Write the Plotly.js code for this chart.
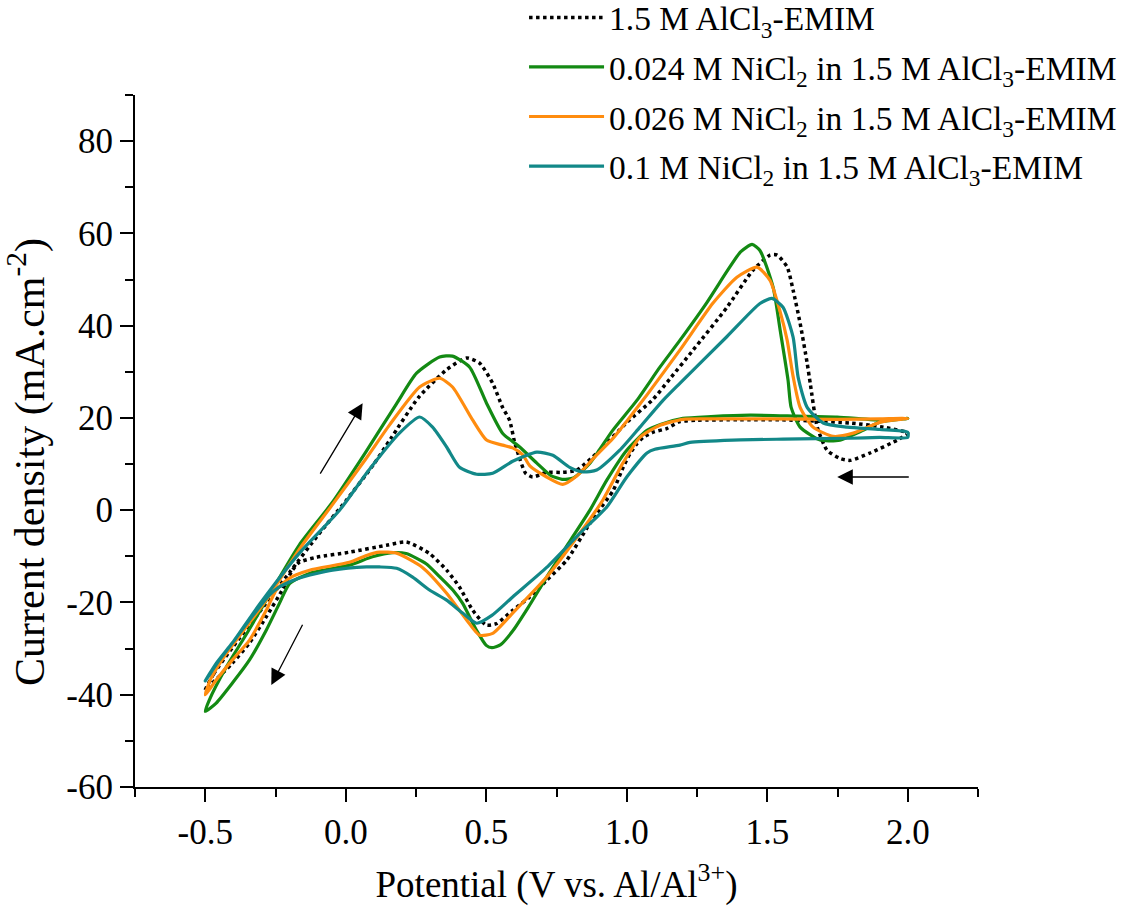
<!DOCTYPE html>
<html>
<head>
<meta charset="utf-8">
<script src="https://cdn.plot.ly/plotly-3.0.1.min.js"></script>
<style>html,body{margin:0;padding:0;background:#fff;}#chart{width:1133px;height:919px;}</style>
</head>
<body>
<div id="chart"></div>
<script>
// ---- Series names ----
const seriesNames = [
  '1.5 M AlCl<sub>3</sub>-EMIM',
  '0.024 M NiCl<sub>2</sub> in 1.5 M AlCl<sub>3</sub>-EMIM',
  '0.026 M NiCl<sub>2</sub> in 1.5 M AlCl<sub>3</sub>-EMIM',
  '0.1 M NiCl<sub>2</sub> in 1.5 M AlCl<sub>3</sub>-EMIM'
];

// ---- 1.5 M AlCl3-EMIM (blank), forward then reverse scan ----
const blankX = [-0.5,-0.47,-0.4,-0.3,-0.2,-0.1,0.0,0.1,0.16,0.26,0.36,0.43,0.476,0.523,0.558,0.583,0.6,0.62,0.64,0.665,0.715,0.772,0.822,0.904,1.0,1.093,1.154,1.236,1.357,1.449,1.51,1.535,1.571,1.592,1.617,1.642,1.653,1.678,1.713,1.76,1.795,1.866,1.963,2.0,
  1.913,1.795,1.678,1.55,1.4,1.25,1.189,1.142,1.094,1.059,1.036,1.012,0.988,0.952,0.893,0.857,0.787,0.715,0.655,0.594,0.536,0.5,0.452,0.405,0.359,0.298,0.216,0.145,0.013,-0.104,-0.165,-0.19,-0.226,-0.283,-0.343,-0.404,-0.475,-0.5];
const blankY = [-39,-35.5,-29.5,-21.5,-13.5,-5.5,2,10,15.5,24.5,30.5,33,31.9,27.5,22.3,19.5,15,11,8,7.2,8.2,8.2,8.7,13,19,24,28.5,34.7,44,52,55.3,55.3,52.7,47.7,40.5,31.9,27.5,18,13,11.2,10.8,12.4,15.2,16.7,
  18,18.9,19.3,19.6,19.6,19.5,19.2,17.7,16.9,15.8,14.4,12.3,9.4,4.3,-0.7,-4,-10.8,-15.2,-18.8,-21.7,-24.6,-24.9,-21.7,-16.7,-13,-9.4,-6.9,-7.6,-9.1,-10.2,-11.3,-13,-17.3,-23.1,-28.8,-33.2,-37.5,-39];

// ---- 0.024 M NiCl2 ----
const ni024X = [-0.5,-0.486,-0.425,-0.35,-0.283,-0.165,-0.05,0.07,0.18,0.252,0.334,0.38,0.441,0.501,0.558,0.619,0.68,0.73,0.77,0.81,0.869,0.95,1.036,1.118,1.189,1.285,1.357,1.405,1.446,1.474,1.521,1.546,1.574,1.585,1.617,1.688,1.759,1.83,1.902,2.0,
  1.913,1.749,1.606,1.439,1.3,1.2,1.12,1.072,1.0,0.929,0.869,0.8,0.72,0.65,0.594,0.55,0.52,0.5,0.465,0.416,0.381,0.334,0.286,0.215,0.166,0.095,0.013,-0.129,-0.2,-0.236,-0.283,-0.343,-0.404,-0.461,-0.5];
const ni024Y = [-43.6,-41.2,-34,-26.5,-19.5,-7.5,1.5,12.5,23,29.7,33.2,33.4,31,23.2,16.7,13.7,10.2,7.5,6.7,7,10.2,17.3,23.8,31,36.8,45,51.8,56,57.6,56.3,48.3,39,28.2,22.3,18,15.2,15.2,17,19.1,19.9,
  19.5,20.2,20.4,20.6,20.3,19.9,18.6,17.3,13,6.5,0,-6.5,-14,-21,-26.2,-29.2,-29.8,-29.3,-26,-20.2,-17.3,-14.4,-11.6,-9.4,-9.2,-10.1,-11.9,-13.7,-15.9,-20.2,-26,-32.5,-37.5,-41.8,-43.6];

// ---- 0.026 M NiCl2 ----
const ni026X = [-0.5,-0.48,-0.43,-0.35,-0.283,-0.16,-0.05,0.07,0.156,0.263,0.334,0.38,0.452,0.501,0.558,0.594,0.63,0.655,0.715,0.772,0.822,0.893,0.95,1.0,1.072,1.189,1.307,1.392,1.464,1.51,1.546,1.571,1.592,1.617,1.663,1.735,1.806,1.902,2.0,
  1.9,1.75,1.5,1.3,1.2,1.118,1.047,0.986,0.915,0.833,0.715,0.594,0.523,0.476,0.43,0.359,0.273,0.181,0.12,0.074,0.013,-0.129,-0.2,-0.247,-0.283,-0.343,-0.404,-0.461,-0.5];
const ni026Y = [-40,-36.5,-31.5,-25,-19.5,-8,1,11,18.5,26.7,28.6,26.7,19.5,15.2,14.1,13.5,12,9.6,7.2,5.6,7.4,12,15.5,19.3,25,34.7,44.9,50.5,52.7,49.8,43,36.8,29,22.3,18,16,16.7,19.1,19.9,
  19.8,19.7,19.8,19.8,19.7,18.4,15.8,10.2,2.2,-5,-14.5,-22.3,-26.7,-27.1,-23.8,-18,-12.4,-9.3,-9.1,-9.8,-11.3,-13,-14.7,-17.3,-21.7,-28.2,-32.5,-36.8,-40];

// ---- 0.1 M NiCl2 ----
const ni100X = [-0.5,-0.45,-0.4,-0.308,-0.165,-0.022,0.08,0.191,0.263,0.309,0.359,0.405,0.466,0.523,0.594,0.68,0.737,0.797,0.844,0.893,0.975,1.047,1.129,1.189,1.356,1.474,1.516,1.556,1.592,1.61,1.642,1.699,1.784,1.9,2.0,
  2.0,1.9,1.795,1.556,1.378,1.225,1.189,1.1,1.072,1.0,0.929,0.833,0.715,0.594,0.52,0.466,0.416,0.359,0.298,0.238,0.181,0.12,0.074,-0.047,-0.165,-0.236,-0.272,-0.343,-0.404,-0.461,-0.5];
const ni100Y = [-37,-32.5,-28.5,-20.5,-9.3,0,8.5,16.7,20.2,18,13.7,9.3,7.8,8,10.6,12.6,11.9,9.3,8.3,8.7,13,18,23.8,27.5,37.6,44.8,45.9,44,37.5,28.8,22.3,18.9,18,17.5,16.9,
  15.8,15.8,15.6,15.4,15.2,14.7,14.1,13.2,12.4,7.2,0.7,-5,-12.4,-18.8,-22.8,-24.5,-22.3,-19.5,-17.3,-14.5,-12.6,-12.3,-12.3,-13,-14.7,-16.6,-18.4,-23.8,-28.8,-33.2,-37];

// ---- Axis ticks ----
const xTickVals = [-0.5, 0.0, 0.5, 1.0, 1.5, 2.0];
const xTickText = ['-0.5', '0.0', '0.5', '1.0', '1.5', '2.0'];
const yTickVals = [-60, -40, -20, 0, 20, 40, 60, 80];
const yTickText = ['-60', '-40', '-20', '0', '20', '40', '60', '80'];

// ---- Scan-direction arrows: [tailX, tailY, headX, headY] ----
const arrowForward = [-0.094, 7.6, 0.06, 23.2];
const arrowReverseLow = [-0.151, -24.5, -0.265, -37.9];
const arrowReverseHigh = [2.009, 7.2, 1.749, 7.2];

const FONT = 'Liberation Serif, Times New Roman, serif';

const traces = [
  {x: blankX, y: blankY, name: seriesNames[0], mode: 'lines', legendgroup: 'g0',
   line: {color: '#000000', width: 3.5, dash: 'dot', shape: 'spline', smoothing: 0.6}},
  {x: ni024X, y: ni024Y, name: seriesNames[1], mode: 'lines', legendgroup: 'g1',
   line: {color: '#138a13', width: 3.2, shape: 'spline', smoothing: 0.6}},
  {x: ni026X, y: ni026Y, name: seriesNames[2], mode: 'lines', legendgroup: 'g2',
   line: {color: '#ff8c0f', width: 3.2, shape: 'spline', smoothing: 0.6}},
  {x: ni100X, y: ni100Y, name: seriesNames[3], mode: 'lines', legendgroup: 'g3',
   line: {color: '#128888', width: 3.2, shape: 'spline', smoothing: 0.6}}
];

function arrow(a) {
  return {x: a[2], y: a[3], ax: a[0], ay: a[1], xref: 'x', yref: 'y', axref: 'x', ayref: 'y',
    text: '', showarrow: true, arrowhead: 2, arrowsize: 2.4, arrowwidth: 1.3, arrowcolor: '#000'};
}

const layout = {
  width: 1133, height: 919,
  margin: {l: 135, r: 155, t: 95, b: 132, autoexpand: false},
  paper_bgcolor: '#fff', plot_bgcolor: '#fff',
  font: {family: FONT, color: '#000', size: 33},
  showlegend: true,
  legend: {x: 0.4615, y: 1.153, xanchor: 'left', yanchor: 'top',
    bgcolor: 'rgba(0,0,0,0)', font: {family: FONT, size: 33.5, color: '#000'},
    itemwidth: 75, traceorder: 'grouped', tracegroupgap: 3},
  xaxis: {
    range: [-0.75, 2.25], showgrid: false, zeroline: false,
    showline: true, linecolor: '#000', linewidth: 2,
    ticks: 'outside', ticklen: 13, tickwidth: 2, tickcolor: '#000',
    tickvals: xTickVals, ticktext: xTickText,
    tickfont: {family: FONT, size: 35, color: '#000'},
    minor: {dtick: 0.25, tick0: 0, ticks: 'outside', ticklen: 8, tickwidth: 2, tickcolor: '#000', showgrid: false},
    title: {text: 'Potential (V vs. Al/Al<sup>3+</sup>)', font: {family: FONT, size: 37, color: '#000'}, standoff: 20},
    automargin: false
  },
  yaxis: {
    range: [-60, 90], showgrid: false, zeroline: false,
    showline: true, linecolor: '#000', linewidth: 2,
    ticks: 'outside', ticklen: 13, tickwidth: 2, tickcolor: '#000',
    tickvals: yTickVals, ticktext: yTickText,
    tickfont: {family: FONT, size: 35, color: '#000'},
    minor: {dtick: 10, tick0: 0, ticks: 'outside', ticklen: 8, tickwidth: 2, tickcolor: '#000', showgrid: false},
    title: {text: 'Current density (mA.cm<sup>-2</sup>)&nbsp;&nbsp;&nbsp;&nbsp;', font: {family: FONT, size: 42, color: '#000'}, standoff: 10},
    automargin: false
  },
  annotations: [arrow(arrowForward), arrow(arrowReverseLow), arrow(arrowReverseHigh)]
};

Plotly.newPlot('chart', traces, layout, {displayModeBar: false, staticPlot: true});
</script>
</body>
</html>
